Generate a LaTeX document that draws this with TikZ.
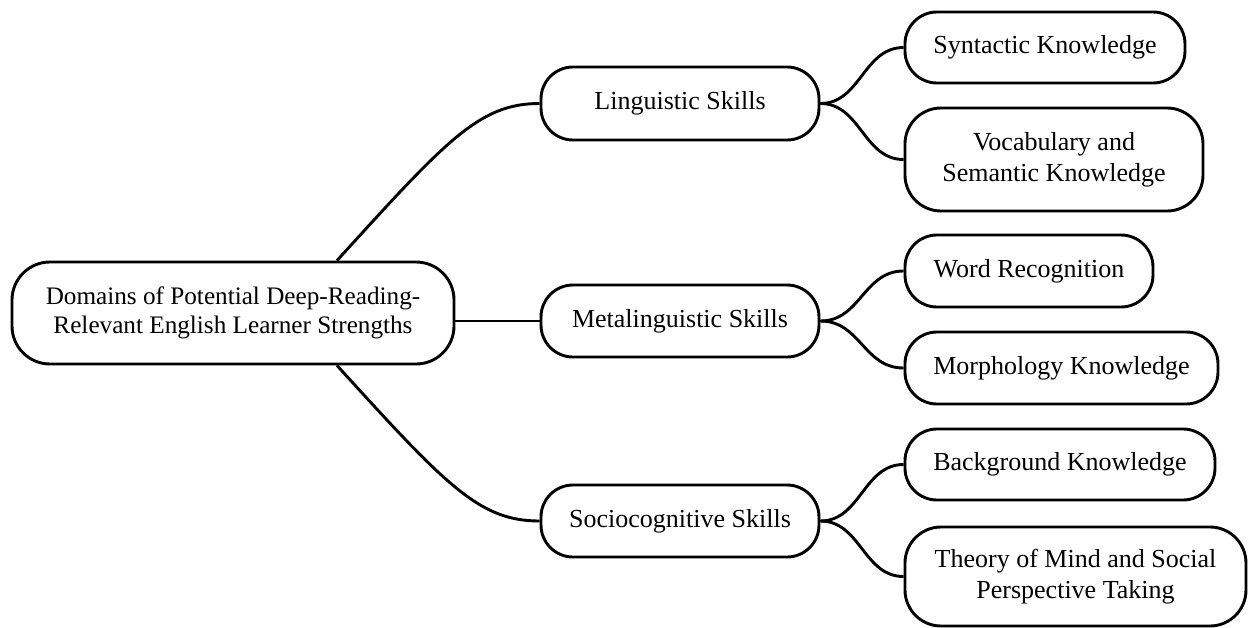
\documentclass[tikz,border=0pt]{standalone}
\usepackage{fontspec}
\setmainfont{Liberation Serif}
\begin{document}
\begin{tikzpicture}[x=0.5pt,y=-0.5pt,
  box/.style={draw, line width=1.45pt, rounded corners=16pt, align=center, inner sep=0pt,
    font=\fontsize{13}{15.5}\selectfont},
  link/.style={line width=1.45pt}]
\useasboundingbox (0,0) rectangle (1248,627);
% nodes
\node[box, rounded corners=19pt, minimum width=221pt, minimum height=51pt, font=\fontsize{12.6}{14.3}\selectfont] (root) at (233,313)
  {Domains of Potential Deep-Reading-\\Relevant English Learner Strengths};
\node[box, minimum width=139pt, minimum height=36.5pt] (ling) at (680,103.5) {Linguistic Skills};
\node[box, minimum width=139pt, minimum height=36pt] (meta) at (680,321) {Metalinguistic Skills};
\node[box, minimum width=139pt, minimum height=36pt] (socio) at (680,521) {Sociocognitive Skills};
\node[box, minimum width=140pt, minimum height=35.5pt] (syn) at (1045,47.5) {Syntactic Knowledge};
\node[box, rounded corners=18pt, minimum width=149pt, minimum height=51.5pt] (voc) at (1054,159.5) {Vocabulary and\\Semantic Knowledge};
\node[box, minimum width=124pt, minimum height=36pt] (word) at (1029,271) {Word Recognition};
\node[box, minimum width=156.5pt, minimum height=36pt] (morph) at (1061.5,368) {Morphology Knowledge};
\node[box, minimum width=155pt, minimum height=35.5pt] (back) at (1060,464.5) {Background Knowledge};
\node[box, rounded corners=18pt, minimum width=170.5pt, minimum height=49.5pt] (theory) at (1075.5,576.5) {Theory of Mind and Social\\Perspective Taking};
% connectors
\coordinate (rt) at ([xshift=52pt]root.north);
\coordinate (rb) at ([xshift=52pt]root.south);
\draw[link] (rt) .. controls +(110,-121) and +(-60,0) .. (ling.west);
\draw[link] (rb) .. controls +(110,121) and +(-60,0) .. (socio.west);
\draw[link] (root.east |- meta.west) -- (meta.west);
\draw[link] (ling.east) .. controls +(40,0) and +(-40,0) .. (syn.west);
\draw[link] (ling.east) .. controls +(40,0) and +(-40,0) .. (voc.west);
\draw[link] (meta.east) .. controls +(40,0) and +(-40,0) .. (word.west);
\draw[link] (meta.east) .. controls +(40,0) and +(-40,0) .. (morph.west);
\draw[link] (socio.east) .. controls +(40,0) and +(-40,0) .. (back.west);
\draw[link] (socio.east) .. controls +(40,0) and +(-40,0) .. (theory.west);
\end{tikzpicture}
\end{document}
